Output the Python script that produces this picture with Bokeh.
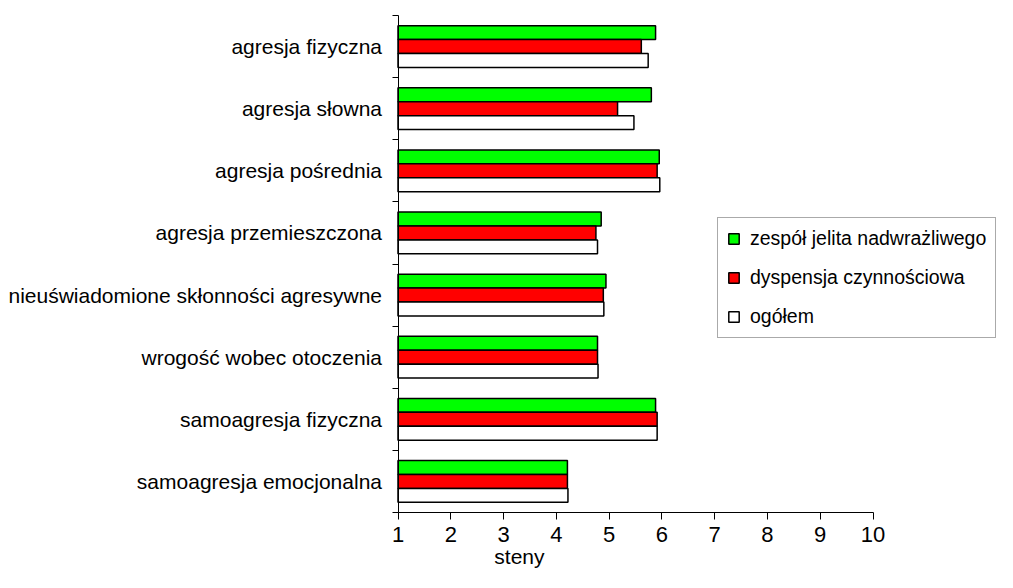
from bokeh.plotting import figure
from bokeh.models import ColumnDataSource, FixedTicker, Legend, LegendItem, Range1d, Label
from bokeh.embed import file_html
from bokeh.resources import INLINE

categories = [
    "agresja fizyczna",
    "agresja słowna",
    "agresja pośrednia",
    "agresja przemieszczona",
    "nieuświadomione skłonności agresywne",
    "wrogość wobec otoczenia",
    "samoagresja fizyczna",
    "samoagresja emocjonalna",
]
ibs = [5.88, 5.80, 5.95, 4.85, 4.94, 4.78, 5.88, 4.21]
fd = [5.61, 5.16, 5.91, 4.75, 4.89, 4.78, 5.91, 4.21]
total = [5.74, 5.47, 5.96, 4.78, 4.90, 4.79, 5.91, 4.22]
series_names = ["zespół jelita nadwrażliwego", "dyspensja czynnościowa", "ogółem"]
series_colors = ["#00ff00", "#ff0000", "#ffffff"]
x_ticks = [1, 2, 3, 4, 5, 6, 7, 8, 9, 10]
x_label = "steny"

FONT = "Liberation Sans"
n = len(categories)
centers = [n - i - 0.5 for i in range(n)]
offsets = [0.225, 0.0, -0.225]
bar_h = 0.224

# layout in pixels (frame = whole canvas, both axes placed at fixed data positions)
W, H = 997, 572
X1_PX = 397.5         # pixel column of value 1
PX_PER_UNIT = 52.78
TOP_PX, AXIS_PX = 15, 512
px_per_band = (AXIS_PX - TOP_PX) / n
x_start = 1 - X1_PX / PX_PER_UNIT
x_end = 1 + (W - X1_PX) / PX_PER_UNIT
y_end = n + TOP_PX / px_per_band
y_start = -(H - AXIS_PX) / px_per_band

p = figure(width=W, height=H, output_backend="svg", toolbar_location=None,
           x_range=Range1d(x_start, x_end), y_range=Range1d(y_start, y_end),
           min_border_left=0, min_border_right=0, min_border_top=0, min_border_bottom=0)
p.outline_line_color = None
p.xgrid.visible = False
p.ygrid.visible = False
p.background_fill_color = "white"
p.border_fill_color = "white"

renderers = []
for vals, off, col in zip([ibs, fd, total], offsets, series_colors):
    src = ColumnDataSource(dict(y=[c + off for c in centers], right=vals, left=[1] * n))
    r = p.hbar(y="y", left="left", right="right", height=bar_h, source=src,
               fill_color=col, line_color="black", line_width=1.5)
    renderers.append(r)

# value axis
xa = p.xaxis[0]
xa.fixed_location = 0
xa.ticker = FixedTicker(ticks=x_ticks)
xa.bounds = (1, 10)
xa.axis_line_color = "black"
xa.major_tick_line_color = "black"
xa.major_tick_out = 7
xa.major_tick_in = 0
xa.minor_tick_line_color = None
xa.major_label_text_font = FONT
xa.major_label_text_font_size = "22px"
xa.major_label_text_color = "black"
xa.major_label_standoff = 7

p.add_layout(Label(x=3.3, y=16, x_units="data", y_units="screen", text=x_label,
                   text_font=FONT, text_font_size="21px", text_color="black",
                   text_align="center", text_baseline="alphabetic"))

# category axis
ya = p.yaxis[0]
ya.fixed_location = 1
ya.ticker = FixedTicker(ticks=centers, minor_ticks=list(range(n + 1)))
ya.bounds = (0, n)
ya.major_label_overrides = {c: lab for c, lab in zip(centers, categories)}
ya.axis_line_color = "black"
ya.major_tick_out = 0
ya.major_tick_in = 0
ya.major_tick_line_color = None
ya.minor_tick_out = 6
ya.minor_tick_in = 0
ya.minor_tick_line_color = "black"
ya.major_label_text_font = FONT
ya.major_label_text_font_size = "21px"
ya.major_label_text_color = "black"
ya.major_label_standoff = 10

legend = Legend(items=[LegendItem(label=nm, renderers=[r]) for nm, r in zip(series_names, renderers)],
                location=(717, H - 338), orientation="vertical",
                glyph_width=13, glyph_height=13, label_height=22, spacing=16,
                padding=9, margin=0, label_standoff=10,
                label_text_font=FONT, label_text_font_size="19.5px", label_text_color="black",
                border_line_color="#555555", border_line_width=1,
                background_fill_color="white", background_fill_alpha=1.0)
p.add_layout(legend, "center")

open("out.html", "w").write(file_html(p, INLINE))
